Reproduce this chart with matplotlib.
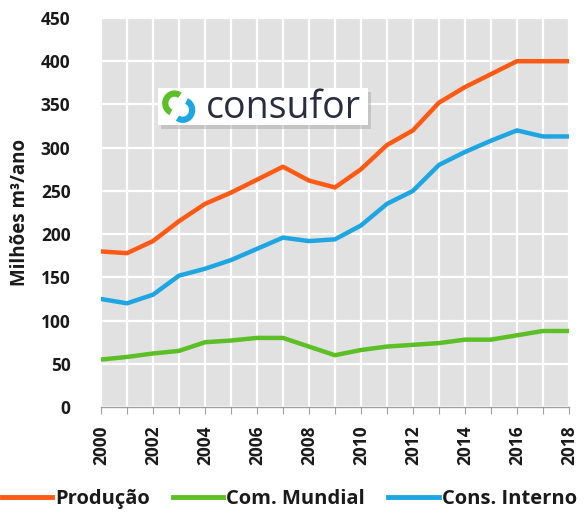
import matplotlib
matplotlib.use("Agg")
import matplotlib.pyplot as plt
from matplotlib.patches import FancyBboxPatch, Arc
from matplotlib.lines import Line2D

years = list(range(2000, 2019))
producao = [180, 178, 192, 215, 235, 248, 263, 278, 262, 254, 275, 303, 320, 352, 370, 385, 400, 400, 400]
com_mundial = [55, 58, 62, 65, 75, 77, 80, 80, 70, 60, 66, 70, 72, 74, 78, 78, 83, 88, 88]
cons_interno = [125, 120, 130, 152, 160, 170, 183, 196, 192, 194, 210, 235, 250, 280, 295, 308, 320, 313, 313]
series_names = ["Produção", "Com. Mundial", "Cons. Interno"]
y_ticks = list(range(0, 451, 50))
x_labels = list(range(2000, 2019, 2))

ORANGE = "#FF5A14"
GREEN = "#5CBF26"
BLUE = "#1EA6E2"

plt.rcParams["font.family"] = ["Open Sans", "DejaVu Sans"]

fig = plt.figure(figsize=(5.84, 5.14), dpi=100)
ax = fig.add_axes([0.173, 0.208, 0.801, 0.757])
ax.set_facecolor("#E1E1E1")

ax.plot(years, producao, color=ORANGE, lw=3.2, solid_capstyle="round", zorder=3)
ax.plot(years, com_mundial, color=GREEN, lw=3.2, solid_capstyle="round", zorder=3)
ax.plot(years, cons_interno, color=BLUE, lw=3.2, solid_capstyle="round", zorder=3)

ax.set_xlim(2000, 2018)
ax.set_ylim(0, 450)
ax.set_yticks(y_ticks)
ax.set_xticks(years)
ax.set_xticklabels([str(y) if y in x_labels else "" for y in years], rotation=90,
                   fontsize=12.5, fontweight="bold", color="#1A1A1A")
ax.set_yticklabels([str(v) for v in y_ticks], fontsize=12.5, fontweight="bold", color="#1A1A1A")
ax.grid(True, color="white", lw=1.6, zorder=1)
ax.set_axisbelow(True)
for s in ["top", "right", "left"]:
    ax.spines[s].set_visible(False)
ax.spines["bottom"].set_color("#A0A0A0")
ax.spines["bottom"].set_linewidth(1.0)
ax.tick_params(axis="x", length=5, color="#A0A0A0", pad=8)
ax.tick_params(axis="y", length=0, pad=22)
ax.set_ylabel("Milhões m³/ano", fontsize=13.5, fontweight="bold", labelpad=8, color="#1A1A1A")

# consufor logo
shadow = FancyBboxPatch((0.276, 0.749), 0.36, 0.072, boxstyle="square,pad=0",
                        transform=fig.transFigure, facecolor="#A8A8A8", edgecolor="none",
                        alpha=0.5, zorder=5)
box = FancyBboxPatch((0.270, 0.757), 0.36, 0.072, boxstyle="square,pad=0",
                     transform=fig.transFigure, facecolor="white", edgecolor="none", zorder=6)
fig.add_artist(shadow)
fig.add_artist(box)
fig.add_artist(Arc((0.299, 0.799), 0.032, 0.038, theta1=60, theta2=250,
                   transform=fig.transFigure, color=GREEN, lw=4.5, zorder=7))
fig.add_artist(Arc((0.313, 0.786), 0.032, 0.038, theta1=240, theta2=430,
                   transform=fig.transFigure, color=BLUE, lw=4.5, zorder=7))
fig.text(0.352, 0.790, "consufor", fontsize=27, color="#2A2D40", va="center", ha="left",
         family=["Open Sans", "DejaVu Sans"], zorder=8)

handles = [Line2D([], [], color=c, lw=3.5) for c in (ORANGE, GREEN, BLUE)]
fig.legend(handles, series_names, loc="lower left", bbox_to_anchor=(-0.028, -0.025), ncol=3,
           frameon=False, prop={"size": 14.5, "weight": "bold"}, handlelength=2.5,
           handletextpad=0.15, columnspacing=1.15, labelcolor="#1A1A1A")

fig.savefig("out.png", dpi=100)
